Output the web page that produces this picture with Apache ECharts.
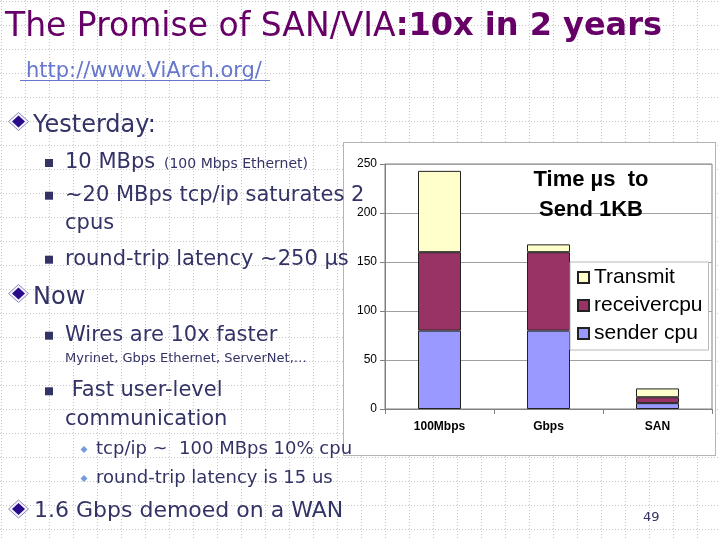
<!DOCTYPE html>
<html>
<head>
<meta charset="utf-8">
<script src="https://cdn.jsdelivr.net/npm/echarts@6/dist/echarts.min.js"></script>
<style>
  html, body { margin: 0; padding: 0; background: #fff; }
  #slide {
    position: relative; width: 720px; height: 540px; overflow: hidden; background-color: #fff;
    background-image: url("data:image/svg+xml;utf8,<svg xmlns='http://www.w3.org/2000/svg' width='24' height='24'><path d='M1.5 0V24M0 1.5H24' stroke='%23c6c6c6' stroke-width='1' stroke-dasharray='1 2' fill='none'/></svg>");
  }
  #frame {
    position: absolute; left: 343px; top: 142px; width: 371px; height: 312px;
    border: 1px solid #b4b4b4; background: #fff;
  }
  #main { position: absolute; left: 0; top: 0; width: 720px; height: 540px; }
</style>
</head>
<body>
<div id="slide">
  <div id="frame"></div>
  <div id="main"></div>
</div>
<script>
// chart data
const categories = ['100Mbps', 'Gbps', 'SAN'];
const senderCpu = [80, 80, 6];
const receiverCpu = [80, 80, 6];
const transmit = [83, 8, 9];
const yMin = 0, yMax = 250, yStep = 50;

const TEXT = '#333366';
const FONT = '"DejaVu Sans", Verdana, sans-serif';
const CHART_FONT = '"Liberation Sans", Arial, sans-serif';

// slide text lines: [x, baseline, text, size]
const slideLines = [
  [33, 133, 'Yesterday:', 24],
  [65, 169, '10 MBps', 21],
  [164, 169, '(100 Mbps Ethernet)', 14],
  [65, 201.7, '~20 MBps tcp/ip saturates 2', 21],
  [65, 230, 'cpus', 21],
  [65, 265.7, 'round-trip latency ~250 µs', 21],
  [33, 305, 'Now', 24],
  [65, 341.7, 'Wires are 10x faster', 21],
  [65, 363, 'Myrinet, Gbps Ethernet, ServerNet,…', 13],
  [65, 397.3, ' Fast user-level', 21],
  [65, 426, 'communication', 21],
  [96, 455, 'tcp/ip ~  100 MBps 10% cpu', 18],
  [96, 484, 'round-trip latency is 15 us', 18],
  [34, 517.7, '1.6 Gbps demoed on a WAN', 22],
  [643, 521.7, '49', 13]
];
const bigBullets = [[18.5, 121.5], [18.5, 293.5], [18.5, 509]];
const squareBullets = [169, 201.7, 265.7, 341.7, 397.3];
const smallBullets = [455, 484];

function textEl(x, base, str, size, color, weight) {
  return {
    type: 'text', x: x, y: base - 0.3 * size, z: 100,
    style: {
      text: str, fill: color || TEXT, verticalAlign: 'middle',
      font: (weight || 'normal') + ' ' + size + 'px ' + FONT
    }
  };
}
function diamond(cx, cy, rx, ry, fill, stroke) {
  return {
    type: 'polygon', z: 100,
    shape: { points: [[cx, cy - ry], [cx + rx, cy], [cx, cy + ry], [cx - rx, cy]] },
    style: { fill: fill, stroke: stroke || null, lineWidth: 1 }
  };
}

const graphic = [];
// slide title
graphic.push({
  type: 'text', x: 5, y: 37 - 0.3 * 33, z: 100,
  style: {
    text: '{a|The Promise of SAN/VIA}{b|:10x in 2 years}', verticalAlign: 'middle',
    fill: '#660066',
    rich: {
      a: { fontFamily: FONT, fontSize: 33, fill: '#660066' },
      b: { fontFamily: FONT, fontSize: 32, fontWeight: 'bold', fill: '#660066' }
    }
  }
});
// link
graphic.push(textEl(26, 78, 'http://www.ViArch.org/', 21, '#6677cc'));
graphic.push({ type: 'line', z: 100, shape: { x1: 20, y1: 80.5, x2: 270, y2: 80.5 }, style: { stroke: '#6677cc', lineWidth: 1 } });

slideLines.forEach(l => graphic.push(textEl(l[0], l[1], l[2], l[3])));
bigBullets.forEach(b => {
  graphic.push(diamond(b[0], b[1], 10, 9, '#f4f4ff', '#8a8ab0'));
  graphic.push(diamond(b[0], b[1], 6.5, 6, '#2a0a8c'));
});
squareBullets.forEach(base => graphic.push({
  type: 'rect', z: 100, shape: { x: 45, y: base - 10, width: 8, height: 8 }, style: { fill: TEXT }
}));
smallBullets.forEach(base => graphic.push(diamond(84, base - 5.5, 3.5, 3.5, '#7799dd')));

const chart = echarts.init(document.getElementById('main'), null, { renderer: 'canvas' });
const barStyle = c => ({ color: c, borderColor: '#222', borderWidth: 1 });

chart.setOption({
  backgroundColor: 'transparent',
  animation: false,
  title: {
    text: 'Time µs  to\nSend 1KB',
    left: 586, top: 160, textAlign: 'center',
    textStyle: { fontFamily: CHART_FONT, fontSize: 22, fontWeight: 'bold', color: '#000', lineHeight: 30 }
  },
  legend: {
    orient: 'vertical', left: 570, top: 262,
    data: ['Transmit', 'receivercpu', 'sender cpu'],
    icon: 'rect', itemWidth: 11, itemHeight: 11, itemGap: 7, itemTextGap: 6,
    backgroundColor: '#fff', borderColor: '#b8b8b8', borderWidth: 1,
    padding: [5, 6, 6, 7],
    textStyle: { fontFamily: CHART_FONT, fontSize: 21, color: '#000', lineHeight: 21 }
  },
  grid: {
    left: 385, right: 8, top: 164, bottom: 131, containLabel: false,
    show: true, borderColor: '#808080', borderWidth: 1, backgroundColor: 'transparent'
  },
  xAxis: {
    type: 'category', data: categories,
    axisLine: { lineStyle: { color: '#808080' } },
    axisTick: { show: true, length: 5, lineStyle: { color: '#808080' } },
    axisLabel: { fontFamily: CHART_FONT, fontSize: 12, fontWeight: 'bold', color: '#000', margin: 12 }
  },
  yAxis: {
    type: 'value', min: yMin, max: yMax, interval: yStep,
    axisLine: { show: true, lineStyle: { color: '#808080' } },
    axisTick: { show: true, length: 5, lineStyle: { color: '#808080' } },
    axisLabel: { fontFamily: CHART_FONT, fontSize: 12, color: '#000', margin: 8 },
    splitLine: { lineStyle: { color: '#a0a0a0' } }
  },
  series: [
    { name: 'sender cpu', type: 'bar', stack: 'time', barWidth: 43, data: senderCpu, itemStyle: barStyle('#9999ff') },
    { name: 'receivercpu', type: 'bar', stack: 'time', barWidth: 43, data: receiverCpu, itemStyle: barStyle('#993366') },
    { name: 'Transmit', type: 'bar', stack: 'time', barWidth: 43, data: transmit, itemStyle: barStyle('#ffffcc') }
  ],
  graphic: graphic
});
</script>
</body>
</html>
